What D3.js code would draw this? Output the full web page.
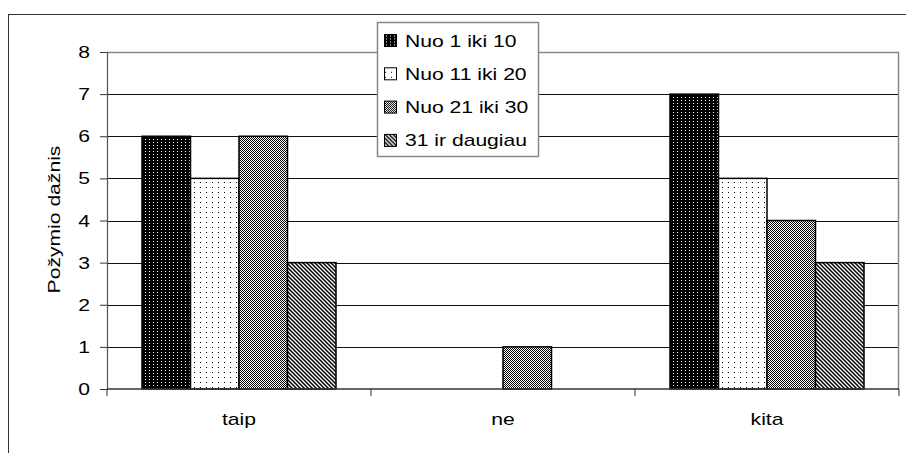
<!DOCTYPE html>
<html>
<head>
<meta charset="utf-8">
<script src="https://cdn.jsdelivr.net/npm/d3@7"></script>
<style>
  body { margin: 0; background: #fff; }
  text { font-family: "Liberation Sans", Arial, sans-serif; fill: #000; }
</style>
</head>
<body>
<div id="chart"></div>
<script>
// data
const categories = ["taip", "ne", "kita"];
const seriesNames = ["Nuo 1 iki 10", "Nuo 11 iki 20", "Nuo 21 iki 30", "31 ir daugiau"];
const valuesTaip = [6, 5, 6, 3];
const valuesNe = [0, 0, 1, 0];
const valuesKita = [7, 5, 4, 3];
const yTicks = [0, 1, 2, 3, 4, 5, 6, 7, 8];

const values = [valuesTaip, valuesNe, valuesKita];

// flat rows for the bars
let rows = [];
categories.forEach((c, i) => {
    seriesNames.forEach((s, j) => {
        rows.push({ category: c, series: s, value: values[i][j] });
    });
});

const width = 906,
      height = 453,
      margin = ({ top: 52, right: 7, bottom: 64, left: 107 });

const stretch = 1.32; // the text in the picture is wider than plain Arial

let svg = d3.select("#chart")
    .append("svg")
    .attr("width", width)
    .attr("height", height);

// fill patterns (black & white hatch like the old excel charts)
let defs = svg.append("defs");

let p1 = defs.append("pattern").attr("id", "pat0")
    .attr("patternUnits", "userSpaceOnUse").attr("width", 4).attr("height", 3);
p1.append("rect").attr("width", 4).attr("height", 3).attr("fill", "#000");
p1.append("rect").attr("x", 1).attr("y", 1).attr("width", 1).attr("height", 1).attr("fill", "#fff");

let p2 = defs.append("pattern").attr("id", "pat1")
    .attr("patternUnits", "userSpaceOnUse").attr("width", 6).attr("height", 5);
p2.append("rect").attr("width", 6).attr("height", 5).attr("fill", "#fff");
p2.append("rect").attr("x", 2).attr("y", 2).attr("width", 1).attr("height", 1).attr("fill", "#000");

let p3 = defs.append("pattern").attr("id", "pat2")
    .attr("patternUnits", "userSpaceOnUse").attr("width", 2).attr("height", 2);
p3.append("rect").attr("width", 2).attr("height", 2).attr("fill", "#fff");
p3.append("rect").attr("width", 1).attr("height", 1).attr("fill", "#000");
p3.append("rect").attr("x", 1).attr("y", 1).attr("width", 1).attr("height", 1).attr("fill", "#000");

let p4 = defs.append("pattern").attr("id", "pat3")
    .attr("patternUnits", "userSpaceOnUse").attr("width", 4).attr("height", 4);
p4.append("rect").attr("width", 4).attr("height", 4).attr("fill", "#fff");
p4.append("path")
    .attr("d", "M-1,-1L5,5M-1,3L1,5M3,-1L5,1")
    .attr("stroke", "#000").attr("stroke-width", 1.5);

let color = d3.scaleOrdinal()
    .domain(seriesNames)
    .range(["url(#pat0)", "url(#pat1)", "url(#pat2)", "url(#pat3)"]);

// outer chart frame, right and bottom edge are cut off in the picture
svg.append("rect")
    .attr("x", 8.5).attr("y", 14.5)
    .attr("width", 1000).attr("height", 1000)
    .attr("fill", "none").attr("stroke", "#333");

let x = d3.scaleBand()
    .domain(categories)
    .range([margin.left, width - margin.right]);

let xInner = d3.scaleBand()
    .domain(seriesNames)
    .range([35, x.bandwidth() - 35]);

let y = d3.scaleLinear()
    .domain([0, 8])
    .range([height - margin.bottom, margin.top]);

// gridlines
svg.append("g")
    .selectAll("line")
    .data(yTicks.filter(d => d > 0 && d < 8))
    .join("line")
    .attr("x1", margin.left).attr("x2", width - margin.right)
    .attr("y1", d => Math.round(y(d)) + 0.5).attr("y2", d => Math.round(y(d)) + 0.5)
    .attr("stroke", "#111");

// plot border top + right (gray)
svg.append("path")
    .attr("d", `M${margin.left},${Math.round(y(8)) + 0.5}H${width - margin.right - 0.5}V${Math.round(y(0))}`)
    .attr("fill", "none")
    .attr("stroke", "#888")
    .attr("stroke-width", 1.5);

// bars
let bar = svg.selectAll(".bar")
    .data(rows.filter(d => d.value > 0))
    .join("rect")
    .attr("class", "bar")
    .attr("x", d => x(d.category) + xInner(d.series))
    .attr("width", xInner.bandwidth())
    .attr("y", d => y(d.value))
    .attr("height", d => y(0) - y(d.value))
    .attr("fill", d => color(d.series))
    .attr("stroke", "#000")
    .attr("stroke-width", 1.5);

// y axis
let yAxis = svg.append("g")
    .attr("transform", `translate(${margin.left},0)`)
    .call(d3.axisLeft(y).tickValues(yTicks).tickSize(7).tickPadding(10).tickFormat(d3.format("d")));
yAxis.select(".domain").attr("stroke", "#555").attr("stroke-width", 1.2);
yAxis.selectAll(".tick line").attr("stroke", "#333");
yAxis.selectAll(".tick text")
    .attr("font-size", 16)
    .attr("font-family", null)
    .attr("dy", "0.35em")
    .attr("transform", function () {
        // stretch around the right edge of the label
        let xx = +d3.select(this).attr("x");
        return `translate(${xx},0) scale(${stretch},1) translate(${-xx},0)`;
    });

// x axis, ticks sit on the category boundaries
let xg = svg.append("g")
    .attr("transform", `translate(0,${y(0)})`);
xg.append("line")
    .attr("x1", margin.left).attr("x2", width - margin.right)
    .attr("stroke", "#333").attr("stroke-width", 1.5);
xg.selectAll(".xtick")
    .data(categories.concat(["end"]))
    .join("line")
    .attr("class", "xtick")
    .attr("x1", (d, i) => margin.left + i * x.bandwidth())
    .attr("x2", (d, i) => margin.left + i * x.bandwidth())
    .attr("y1", 0).attr("y2", 7)
    .attr("stroke", "#333");
xg.selectAll(".xlabel")
    .data(categories)
    .join("text")
    .attr("class", "xlabel")
    .attr("text-anchor", "middle")
    .attr("font-size", 16)
    .attr("transform", d => `translate(${x(d) + x.bandwidth() / 2},36) scale(${stretch},1)`)
    .text(d => d);

// y axis title
svg.append("text")
    .attr("text-anchor", "middle")
    .attr("font-size", 16)
    .attr("transform", `translate(60,${(y(0) + y(8)) / 2 - 1}) rotate(-90) scale(${stretch},1)`)
    .text("Požymio dažnis");

// legend
let legend = svg.append("g").attr("transform", "translate(377,22)");
legend.append("rect")
    .attr("x", 0.5).attr("y", 0.5)
    .attr("width", 161).attr("height", 134)
    .attr("fill", "#fff")
    .attr("stroke", "#888")
    .attr("stroke-width", 1.5);

let item = legend.selectAll(".item")
    .data(seriesNames)
    .join("g")
    .attr("class", "item")
    .attr("transform", (d, i) => `translate(0,${24.5 + i * 33.3})`);

item.append("rect")
    .attr("x", 7.5).attr("y", -12)
    .attr("width", 12).attr("height", 12)
    .attr("fill", d => color(d))
    .attr("stroke", "#000");

item.append("text")
    .attr("font-size", 16)
    .attr("transform", `translate(28,0) scale(${stretch},1)`)
    .text(d => d);
</script>
</body>
</html>
